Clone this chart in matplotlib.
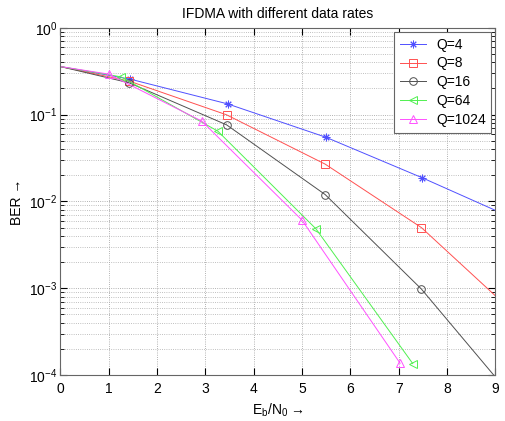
import matplotlib
matplotlib.use("Agg")
import matplotlib.pyplot as plt
from matplotlib.ticker import LogLocator, NullFormatter, MultipleLocator

plt.rcParams['font.family'] = ['Liberation Sans', 'DejaVu Sans']
plt.rcParams['mathtext.fontset'] = 'custom'
plt.rcParams['mathtext.rm'] = 'Liberation Sans'
plt.rcParams['mathtext.it'] = 'Liberation Sans'

# Eb/N0 (dB) and BER; first/last points are line ends
x_q4 = [0, 1.45, 3.46, 5.49, 7.49, 9.0]
ber_q4 = [0.358, 0.256, 0.133, 0.055, 0.0187, 0.0079]

x_q8 = [0, 1.43, 3.44, 5.48, 7.47, 9.0]
ber_q8 = [0.358, 0.243, 0.0995, 0.0269, 0.0050, 0.00082]

x_q16 = [0, 1.43, 3.44, 5.48, 7.47, 9.0]
ber_q16 = [0.358, 0.232, 0.0763, 0.0120, 0.00098, 0.000095]

x_q64 = [0, 1.26, 3.26, 5.29, 7.29]
ber_q64 = [0.358, 0.272, 0.0645, 0.00483, 0.000136]

x_q1024 = [0, 1.0, 2.93, 5.0, 7.03]
ber_q1024 = [0.358, 0.293, 0.084, 0.0061, 0.000137]

labels = ['Q=4', 'Q=8', 'Q=16', 'Q=64', 'Q=1024']

fig = plt.figure(figsize=(5.06, 4.21), dpi=100)
ax = fig.add_axes([0.119, 0.109, 0.860, 0.825])

series = [
    (x_q4, ber_q4, '#5050ff', (8, 2, 0)),
    (x_q8, ber_q8, '#ff5050', 's'),
    (x_q16, ber_q16, '#505050', 'o'),
    (x_q64, ber_q64, '#50f050', '<'),
    (x_q1024, ber_q1024, '#ff50ff', '^'),
]
for (xs, ys, c, m), lab in zip(series, labels):
    n = len(xs)
    last = n - 1 if xs[-1] == 9.0 else n
    ax.semilogy(xs, ys, color=c, lw=0.7, marker=m, markersize=5.5,
                markerfacecolor='none', markeredgecolor=c, markeredgewidth=0.7,
                markevery=list(range(1, last)), label=lab)

ax.set_xlim(0, 9)
ax.set_ylim(1e-4, 1)
ax.xaxis.set_major_locator(MultipleLocator(1))
ax.yaxis.set_major_locator(LogLocator(base=10, numticks=10))
ax.yaxis.set_minor_locator(LogLocator(base=10, subs=range(2, 10), numticks=20))
ax.yaxis.set_minor_formatter(NullFormatter())

ax.grid(True, which='major', ls=':', color='#999999', lw=0.6)
ax.grid(True, which='minor', axis='y', ls=':', color='#aaaaaa', lw=0.6)
ax.tick_params(which='both', direction='in', top=True, right=True, labelsize=10)
ax.tick_params(which='major', length=5)
ax.tick_params(which='minor', length=3)
ax.tick_params(axis='x', pad=5)
ax.tick_params(axis='y', pad=2)
for s in ax.spines.values():
    s.set_color('#666666')

ax.set_title('IFDMA with different data rates', fontsize=10, pad=7)
ax.set_xlabel('E$_\\mathrm{b}$/N$_\\mathrm{0}$ →', fontsize=10, labelpad=4)
ax.set_ylabel('BER →', fontsize=10, labelpad=4)

leg = ax.legend(loc='upper right', fontsize=10, fancybox=False, framealpha=1,
                edgecolor='#666666', borderaxespad=0.3, handlelength=1.9,
                handletextpad=0.7, labelspacing=0.35, borderpad=0.4)
leg.get_frame().set_linewidth(0.8)

fig.savefig('out.png', dpi=100)
